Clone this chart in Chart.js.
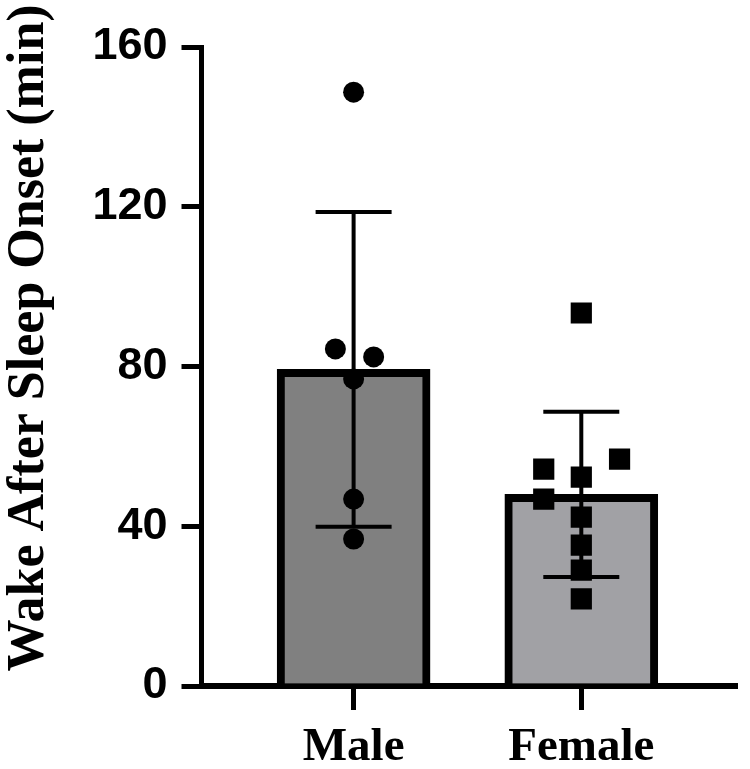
<!DOCTYPE html>
<html>
<head>
<meta charset="utf-8">
<script src="https://cdn.jsdelivr.net/npm/chart.js@4"></script>
<style>
  body { margin: 0; background: #fff; }
  #wrap { width: 750px; height: 769px; }
</style>
</head>
<body>
<div id="wrap"><canvas id="myChart"></canvas></div>
<script>
const categories = ['Male', 'Female'];
const means = [79.3, 48.0];
const sds = [39.4, 20.7];
const yTicks = [0, 40, 80, 120, 160];

const maleValues = [148.7, 84.4, 82.4, 76.9, 46.8, 36.8];
const maleJitter = [0, -0.08, 0.088, 0, 0, 0];
const femaleValues = [93.4, 54.3, 52.3, 56.8, 46.8, 42.3, 35.3, 29.0, 21.8];
const femaleJitter = [0, -0.165, 0, 0.168, -0.165, 0, 0, 0, 0];

const yTitle = 'Wake After Sleep Onset (min)';

function points(values, jitter, idx) {
  return values.map((v, i) => ({ x: idx + jitter[i], y: v }));
}

const errorBars = {
  id: 'errorBars',
  afterDatasetDraw(chart, args) {
    if (args.meta.type !== 'bar') return;
    const ctx = chart.ctx;
    const xs = chart.scales.x, ys = chart.scales.y;
    ctx.save();
    ctx.strokeStyle = '#000';
    ctx.lineWidth = 4;
    means.forEach((m, i) => {
      const x = xs.getPixelForValue(i);
      const top = ys.getPixelForValue(m + sds[i]);
      const bot = ys.getPixelForValue(m - sds[i]);
      ctx.beginPath();
      ctx.moveTo(x, top); ctx.lineTo(x, bot);
      ctx.moveTo(x - 38, top); ctx.lineTo(x + 38, top);
      ctx.moveTo(x - 38, bot); ctx.lineTo(x + 38, bot);
      ctx.stroke();
    });
    ctx.restore();
  }
};

const yTitlePlugin = {
  id: 'yTitle',
  afterDraw(chart) {
    const ctx = chart.ctx;
    ctx.save();
    ctx.translate(43, 338);
    ctx.rotate(-Math.PI / 2);
    ctx.font = 'bold 52px "Liberation Serif"';
    ctx.fillStyle = '#000';
    ctx.textAlign = 'center';
    ctx.textBaseline = 'alphabetic';
    ctx.fillText(yTitle, 0, 0);
    ctx.restore();
  }
};

const ctx = document.getElementById('myChart');

new Chart(ctx, {
  type: 'bar',
  data: {
    datasets: [
      {
        type: 'bar',
        data: means.map((m, i) => ({ x: i, y: m })),
        backgroundColor: ['rgb(128,128,128)', 'rgb(161,161,165)'],
        borderColor: '#000',
        borderWidth: 8,
        barThickness: 153,
        order: 2
      },
      {
        type: 'scatter',
        data: points(maleValues, maleJitter, 0),
        pointStyle: 'circle',
        pointRadius: 10.5,
        backgroundColor: '#000',
        borderWidth: 0,
        order: 1
      },
      {
        type: 'scatter',
        data: points(femaleValues, femaleJitter, 1),
        pointStyle: 'rect',
        pointRadius: 15,
        backgroundColor: '#000',
        borderWidth: 0,
        order: 1
      }
    ]
  },
  options: {
    responsive: true,
    maintainAspectRatio: false,
    animation: false,
    layout: { padding: { top: 47, right: 5, bottom: 0, left: 0 } },
    plugins: { legend: { display: false }, tooltip: { enabled: false } },
    scales: {
      x: {
        type: 'linear',
        offset: false,
        min: -0.668,
        max: 1.675,
        afterBuildTicks: s => { s.ticks = categories.map((c, i) => ({ value: i })); },
        afterFit: s => { s.height = 83; },
        border: { display: true, color: '#000', width: 6 },
        grid: { offset: false, drawOnChartArea: false, color: '#000', lineWidth: 5, tickLength: 24, tickWidth: 5, tickColor: '#000' },
        ticks: {
          autoSkip: false,
          maxRotation: 0,
          padding: 10,
          color: '#000',
          font: { family: 'Liberation Serif', weight: 'bold', size: 47 },
          callback: v => categories[v]
        }
      },
      y: {
        min: 0,
        max: 160,
        afterBuildTicks: s => { s.ticks = yTicks.map(v => ({ value: v })); },
        afterFit: s => { s.width = 201.5; },
        border: { display: true, color: '#000', width: 5 },
        grid: { drawOnChartArea: false, color: '#000', lineWidth: 5, tickLength: 20, tickWidth: 5, tickColor: '#000' },
        ticks: {
          padding: 14,
          color: '#000',
          font: { family: 'Liberation Sans', weight: 'bold', size: 45 }
        }
      }
    }
  },
  plugins: [errorBars, yTitlePlugin]
});
</script>
</body>
</html>
